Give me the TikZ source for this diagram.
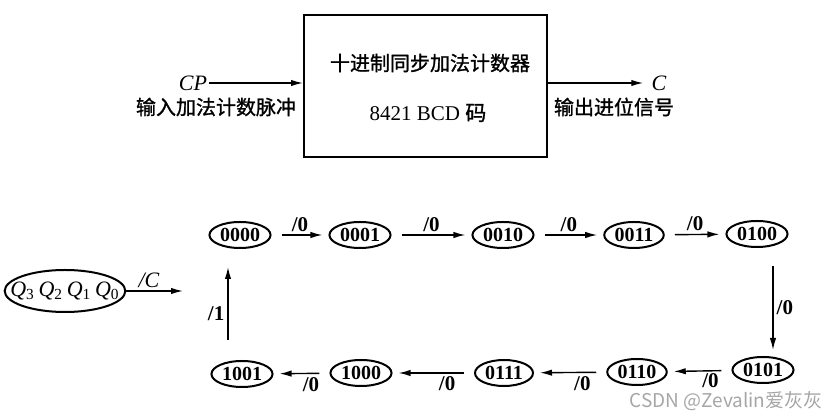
\documentclass[tikz,border=0pt]{standalone}
\usepackage{fontspec}
\setmainfont{Liberation Serif}
\newfontfamily\cjk{Noto Sans CJK SC}
\newfontfamily\cjkbold{Noto Sans CJK SC}[FakeBold=1.2]
\usetikzlibrary{arrows.meta,shapes.geometric,calc}

\begin{document}
\begin{tikzpicture}[x=0.5pt,y=-0.5pt,>={Latex[length=6pt,width=3.2pt]},
  state/.style={draw,ellipse,line width=1pt,inner xsep=0.8pt,inner ysep=1pt,minimum width=29pt,minimum height=13pt,font=\fontsize{10}{12}\selectfont\bfseries},
  flow/.style={->,line width=0.7pt,shorten <=5pt,shorten >=3pt},
  translabel/.style={font=\fontsize{10.5}{12}\selectfont\bfseries,inner sep=1.5pt}]
  \useasboundingbox (0,0) rectangle (835,415);

  % Counter block
  \node[draw,line width=1pt,minimum width=121.5pt,minimum height=71pt,inner sep=0pt] (counter) at (425.5,86) {};
  \node[font=\cjkbold\fontsize{10}{12}\selectfont] (title) at (430,63) {十进制同步加法计数器};
  \node[font=\fontsize{10.5}{12}\selectfont] (code) at (428,113) {8421 BCD {\cjkbold 码}};

  % Input and output
  \node[font=\fontsize{11}{13}\selectfont\itshape,inner sep=1pt] (cp) at (193,83) {CP};
  \node[font=\cjkbold\fontsize{10}{12}\selectfont] (inlabel) at (216,107) {输入加法计数脉冲};
  \draw[->,line width=0.7pt] (cp.east) -- (cp.east -| counter.west);
  \node[font=\fontsize{11}{13}\selectfont\itshape,inner sep=1pt] (cout) at (659,83) {C};
  \node[font=\cjkbold\fontsize{10}{12}\selectfont] (outlabel) at (614,107) {输出进位信号};
  \draw[->,line width=0.7pt] (counter.east |- cout.west) -- ([xshift=-3pt]cout.west);

  % State legend
  \node[draw,ellipse,line width=1pt,minimum height=21pt,inner xsep=-6pt,inner ysep=0pt,font=\fontsize{11}{13}\selectfont] (qstate) at (65,291)
    {\textit{Q}\textsubscript{3}\,\textit{Q}\textsubscript{2}\,\textit{Q}\textsubscript{1}\,\textit{Q}\textsubscript{0}};
  \coordinate (qend) at (183,291);
  \draw[->,line width=0.7pt] (qstate.east) -- node[translabel,above,pos=0.4,font=\fontsize{11}{13}\selectfont\itshape]{/C} (qend);

  % States
  \node[state] (s0) at (240,235) {0000};
  \node[state] (s1) at (360,235) {0001};
  \node[state] (s2) at (503,235) {0010};
  \node[state] (s3) at (634,235) {0011};
  \node[state] (s4) at (757,234) {0100};
  \node[state] (s5) at (763,370) {0101};
  \node[state] (s6) at (637,372) {0110};
  \node[state] (s7) at (504,373) {0111};
  \node[state] (s8) at (361,373) {1000};
  \node[state] (s9) at (242,374) {1001};

  % Top row
  \draw[flow] (s0) -- node[translabel,above]{/0} (s1);
  \draw[flow] (s1) -- node[translabel,above]{/0} (s2);
  \draw[flow] (s2) -- node[translabel,above]{/0} (s3);
  \draw[flow] (s3) -- node[translabel,above]{/0} (s4);

  % Down the right side
  \draw[->,line width=0.7pt] ([shift={(16,18)}]s4.south) -- node[translabel,right]{/0} ([shift={(10,-6)}]s5.north);

  % Bottom row
  \draw[flow] (s5) -- node[translabel,below=-0.5pt,pos=0.33]{/0} (s6);
  \draw[flow] (s6) -- node[translabel,below,pos=0.33]{/0} (s7);
  \draw[flow] (s7) -- node[translabel,below,pos=0.33]{/0} (s8);
  \draw[flow] (s8) -- node[translabel,below,pos=0.33]{/0} (s9);

  % Back to 0000
  \draw[->,line width=0.7pt] ([shift={(-14,-20)}]s9.north) -- node[translabel,left,pos=0.36]{/1} ([shift={(-12,18)}]s0.south);

  \node[font=\cjk\fontsize{9.5}{11}\selectfont,text=black!35] (mark) at (726,401) {CSDN @Zevalin爱灰灰};
\end{tikzpicture}
\end{document}
